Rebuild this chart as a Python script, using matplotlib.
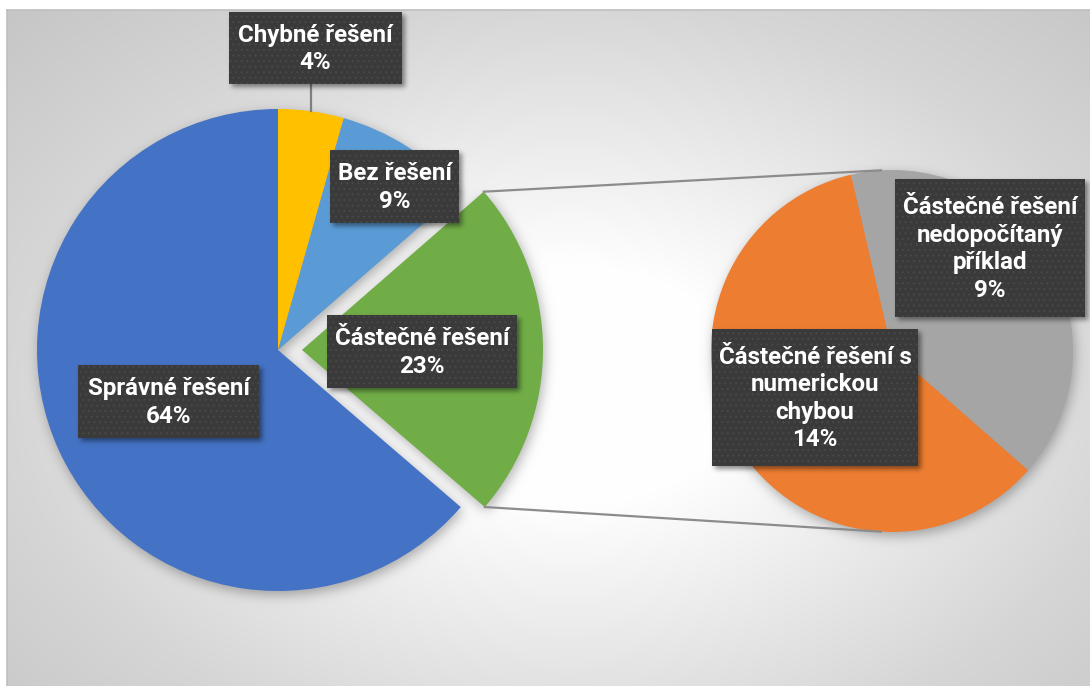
import numpy as np
import matplotlib
matplotlib.use("Agg")
import matplotlib.pyplot as plt
from matplotlib.patches import Rectangle

# ---------------- data ----------------
main_labels = ["Chybné řešení", "Bez řešení", "Částečné řešení", "Správné řešení"]
main_values = [4.4, 9.2, 22.7, 63.7]
main_colors = ["#FFC000", "#5B9BD5", "#70AD47", "#4472C4"]

sub_labels = ["Částečné řešení\nnedopočítaný\npříklad", "Částečné řešení s\nnumerickou\nchybou"]
sub_values = [9.1, 13.6]
sub_colors = ["#A5A5A5", "#ED7D31"]

# ---------------- layout (pixels, y down) ----------------
W, H = 1090, 686
MAIN_C, MAIN_R = (278.0, 350.0), 241.0
SUB_C, SUB_R = (892.0, 351.0), 181.0
EXPLODE = 24.0
SUB_START = -13.1  # clockwise from top
main_boxes = [(229, 12, 402, 84), (330, 150, 459, 223), (327, 315, 517, 388), (78, 365, 259, 438)]
sub_boxes = [(895, 179, 1085, 317), (712, 329, 918, 466)]
FONT = ["Roboto", "DejaVu Sans"]

fig = plt.figure(figsize=(W / 100, H / 100), dpi=100)
ax = fig.add_axes([0, 0, 1, 1])

# ---------------- background with gradient + pie shadows ----------------
yy, xx = np.mgrid[0:H, 0:W] + 0.5
t = np.sqrt(((xx - 570) / 560) ** 2 + ((yy - 385) / 380) ** 2)
bg = np.interp(t, [0, 0.32, 1.0, 1.5], [255, 254, 214, 194]) / 255.0


def gblur(a, sigma):
    r = int(3 * sigma)
    xs = np.arange(-r, r + 1)
    k = np.exp(-xs ** 2 / (2 * sigma ** 2))
    k /= k.sum()
    p = np.pad(a, r)
    o1 = np.zeros_like(p)
    for i, kv in zip(xs, k):
        o1 += kv * np.roll(p, i, axis=0)
    o2 = np.zeros_like(p)
    for i, kv in zip(xs, k):
        o2 += kv * np.roll(o1, i, axis=1)
    return o2[r:-r, r:-r]


fr = np.array(main_values) / np.sum(main_values) * 360
cum = np.concatenate([[0], np.cumsum(fr)])
g1, g2 = cum[2], cum[3]
gm = np.radians((g1 + g2) / 2)
apex = (MAIN_C[0] + EXPLODE * np.sin(gm), MAIN_C[1] - EXPLODE * np.cos(gm))


def cw_angle(dx, dy):
    return np.degrees(np.arctan2(dx, -dy)) % 360


ox, oy = 2, 4
dx, dy = xx - ox - MAIN_C[0], yy - oy - MAIN_C[1]
ang = cw_angle(dx, dy)
m_main = (dx ** 2 + dy ** 2 < MAIN_R ** 2) & ~((ang >= g1) & (ang <= g2))
dx2, dy2 = xx - ox - apex[0], yy - oy - apex[1]
ang2 = cw_angle(dx2, dy2)
m_green = (dx2 ** 2 + dy2 ** 2 < MAIN_R ** 2) & (ang2 >= g1) & (ang2 <= g2)
dx3, dy3 = xx - ox - SUB_C[0], yy - oy - SUB_C[1]
m_sub = dx3 ** 2 + dy3 ** 2 < SUB_R ** 2
mask = (m_main | m_green | m_sub).astype(float)
sh = gblur(mask, 6.0)
bg = bg * (1 - 0.30 * sh)
# outside chart area white
bg[:, :7] = 1.0
bg[:10, :] = 1.0
img = np.dstack([bg, bg, bg])
ax.imshow(img, extent=(0, W, H, 0), origin="upper", interpolation="bilinear", zorder=0)
ax.plot([7, 7], [9.5, H], color="#BFBFBF", lw=1.2, zorder=1)
ax.plot([7, W], [9.5, 9.5], color="#BFBFBF", lw=1.2, zorder=1)

# ---------------- pies ----------------
ax.pie(main_values, colors=main_colors, startangle=-90, counterclock=True,
       explode=[0, 0, EXPLODE, 0], center=MAIN_C, radius=MAIN_R,
       wedgeprops=dict(linewidth=0, zorder=2), frame=True)
ax.pie(sub_values, colors=sub_colors, startangle=-90 + SUB_START, counterclock=True,
       center=SUB_C, radius=SUB_R, wedgeprops=dict(linewidth=0, zorder=2), frame=True)

# connector lines
def pt(c, r, phi):
    p = np.radians(phi)
    return c[0] + r * np.sin(p), c[1] - r * np.cos(p)

c_top = pt(apex, MAIN_R, g1)
c_bot = pt(apex, MAIN_R, g2)
s_top = pt(SUB_C, SUB_R, -3.5)
s_bot = pt(SUB_C, SUB_R, 183.5)
ax.plot([c_top[0], s_top[0]], [c_top[1], s_top[1]], color="#8C8C8C", lw=1.6, zorder=3)
ax.plot([c_bot[0], s_bot[0]], [c_bot[1], s_bot[1]], color="#8C8C8C", lw=1.6, zorder=3)

# leader for Chybné řešení
ym = pt(MAIN_C, MAIN_R, (cum[0] + cum[1]) / 2)
ax.plot([ym[0], ym[0]], [main_boxes[0][3], ym[1]], color="#7F7F7F", lw=1.6, zorder=3)

# ---------------- labels ----------------
probe = ax.text(0, 0, "Částečné řešení", fontsize=18, family=FONT, weight="bold")
fig.canvas.draw()
wpx = probe.get_window_extent().width
fs = 18 * 175 / wpx
probe.remove()

all_boxes = main_boxes + sub_boxes
all_text = [f"{l}\n{round(v)}%" for l, v in zip(main_labels, main_values)] + \
           [f"{l}\n{round(v)}%" for l, v in zip(sub_labels, sub_values)]

# box shadows
bm = np.zeros((H, W))
for (x0, y0, x1, y1) in all_boxes:
    bm[int(y0 + 3):int(y1 + 3), int(x0 + 3):int(x1 + 3)] = 1.0
bsh = gblur(bm, 2.5)
ov = np.zeros((H, W, 4))
ov[..., 3] = 0.45 * bsh
ax.imshow(ov, extent=(0, W, H, 0), origin="upper", interpolation="bilinear", zorder=4)

plt.rcParams["hatch.linewidth"] = 0.8
for (x0, y0, x1, y1), s in zip(all_boxes, all_text):
    ax.add_patch(Rectangle((x0, y0), x1 - x0, y1 - y0, facecolor="#3A3A3A",
                           edgecolor="#484848", hatch="...", lw=0, zorder=5))
    ax.text((x0 + x1) / 2, (y0 + y1) / 2 + 1, s, ha="center", va="center",
            multialignment="center", color="white", fontsize=fs, linespacing=1.25,
            family=FONT, weight="bold", zorder=6)

ax.set_xlim(0, W)
ax.set_ylim(H, 0)
ax.set_aspect("auto")
ax.axis("off")
fig.savefig("out.png", dpi=100)
